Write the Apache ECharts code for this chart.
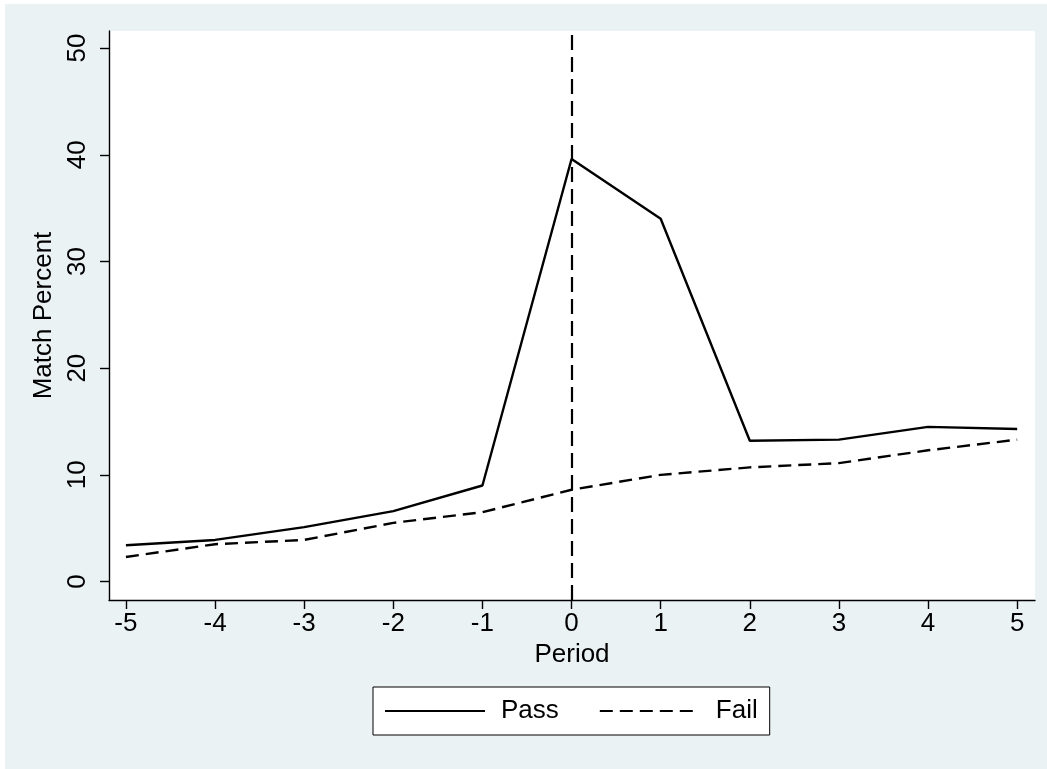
<!DOCTYPE html>
<html>
<head>
<meta charset="utf-8">
<script src="https://cdn.jsdelivr.net/npm/echarts@6/dist/echarts.min.js"></script>
<style>
  html, body { margin: 0; padding: 0; background: #ffffff; }
  #bg { position: absolute; left: 5px; top: 4px; width: 1042px; height: 765px; background: #EAF2F3; }
  #chart { position: absolute; left: 0; top: 0; width: 1047px; height: 769px; }
</style>
</head>
<body>
<div id="bg"></div>
<div id="chart"></div>
<script>
const periods = [-5, -4, -3, -2, -1, 0, 1, 2, 3, 4, 5];
const passValues = [3.4, 3.9, 5.1, 6.6, 9.0, 39.6, 34.0, 13.2, 13.3, 14.5, 14.3];
const failValues = [2.3, 3.5, 3.9, 5.5, 6.5, 8.6, 10.0, 10.7, 11.1, 12.3, 13.3];
const xTickLabels = [-5, -4, -3, -2, -1, 0, 1, 2, 3, 4, 5];
const yTickLabels = [0, 10, 20, 30, 40, 50];
const referenceLineX = 0;

const FONT = 'Liberation Sans';
const FS = 26;
const chart = echarts.init(document.getElementById('chart'));
const dash = [13, 7];

chart.setOption({
  backgroundColor: 'transparent',
  animation: false,
  textStyle: { fontFamily: FONT, color: '#000' },
  grid: {
    left: 109, top: 31, right: 12, bottom: 169,
    show: true, backgroundColor: '#ffffff', borderWidth: 0
  },
  xAxis: {
    type: 'value',
    min: -5.19, max: 5.2,
    name: 'Period',
    nameLocation: 'middle',
    nameGap: 40,
    nameTextStyle: { fontFamily: FONT, fontSize: FS, color: '#000' },
    axisLine: { show: true, onZero: false, lineStyle: { color: '#000', width: 1.4 } },
    axisTick: { show: true, length: 9, customValues: xTickLabels, lineStyle: { color: '#000', width: 1.4 } },
    axisLabel: { customValues: xTickLabels, fontFamily: FONT, fontSize: FS, color: '#000', margin: 11 },
    splitLine: { show: false }
  },
  yAxis: {
    type: 'value',
    min: -1.73, max: 51.6,
    name: 'Match Percent',
    nameLocation: 'middle',
    nameGap: 39,
    nameTextStyle: { fontFamily: FONT, fontSize: FS, color: '#000' },
    axisLine: { show: true, onZero: false, lineStyle: { color: '#000', width: 1.4 } },
    axisTick: { show: true, length: 9, customValues: yTickLabels, lineStyle: { color: '#000', width: 1.4 } },
    axisLabel: { customValues: yTickLabels, rotate: 90, fontFamily: FONT, fontSize: FS, color: '#000', margin: 18 },
    splitLine: { show: false }
  },
  legend: {
    left: 373, top: 687,
    orient: 'horizontal',
    backgroundColor: '#ffffff',
    borderColor: '#000', borderWidth: 1, borderRadius: 0,
    padding: [11, 12, 11, 11],
    itemWidth: 100, itemHeight: 20, itemGap: 40,
    itemStyle: { opacity: 0 },
    textStyle: { fontFamily: FONT, fontSize: FS, color: '#000', padding: [0, 0, 0, 11] },
    data: ['Pass', 'Fail']
  },
  series: [
    {
      name: 'Pass', type: 'line',
      data: periods.map((p, i) => [p, passValues[i]]),
      symbol: 'none', showSymbol: false,
      lineStyle: { color: '#000', width: 2.4, type: 'solid' },
      itemStyle: { color: '#000' },
      markLine: {
        silent: true, symbol: 'none',
        label: { show: false },
        lineStyle: { color: '#000', width: 2.2, type: [15, 7] },
        data: [{ xAxis: referenceLineX }]
      }
    },
    {
      name: 'Fail', type: 'line',
      data: periods.map((p, i) => [p, failValues[i]]),
      symbol: 'none', showSymbol: false,
      lineStyle: { color: '#000', width: 2.4, type: dash },
      itemStyle: { color: '#000' }
    }
  ]
});
</script>
</body>
</html>
